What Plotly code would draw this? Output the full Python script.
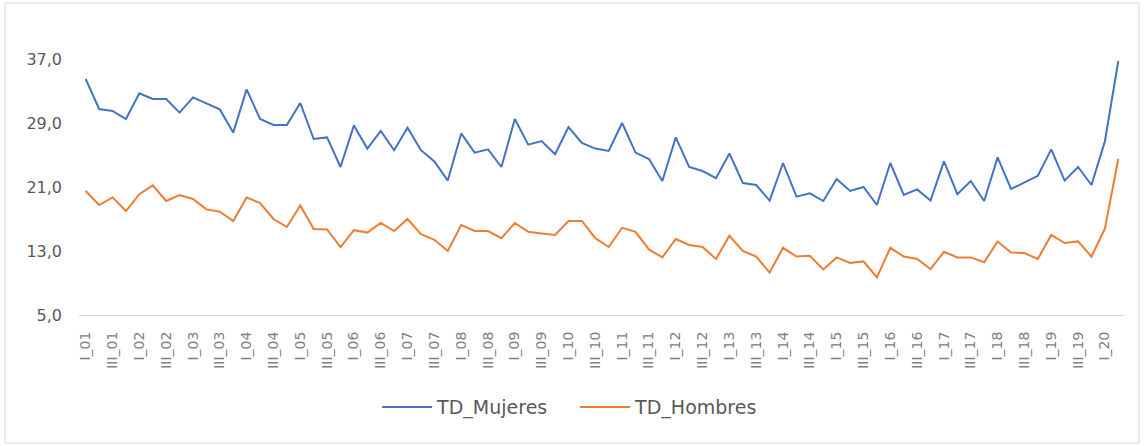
import plotly.graph_objects as go

quarters = ["I", "II", "III", "IV"]
years = ["%02d" % y for y in range(1, 21)]
categories = [f"{q}_{y}" for y in years for q in quarters][:78]  # I_01 .. II_20

mujeres = [34.5, 30.75, 30.5, 29.5, 32.7, 32.0, 32.0, 30.3, 32.2, 31.5, 30.7, 27.8, 33.2, 29.5, 28.75, 28.75,
           31.5, 27.0, 27.2, 23.5, 28.7, 25.8, 28.0, 25.6, 28.4, 25.6, 24.2, 21.8, 27.7, 25.3, 25.7, 23.5,
           29.5, 26.3, 26.75, 25.1, 28.5, 26.5, 25.8, 25.5, 29.0, 25.3, 24.5, 21.75, 27.2, 23.5, 23.0,
           22.1, 25.2, 21.5, 21.25, 19.3, 24.0, 19.8, 20.2, 19.25, 22.0, 20.5, 21.0, 18.75, 24.0, 20.0, 20.7,
           19.3, 24.2, 20.1, 21.75, 19.25, 24.7, 20.75, 21.6, 22.4, 25.7, 21.8, 23.5, 21.25, 26.7, 36.75]

hombres = [20.5, 18.75, 19.7, 18.0, 20.1, 21.2, 19.25, 20.0, 19.5, 18.2, 17.9, 16.75, 19.7, 19.0, 17.0, 16.0,
           18.7, 15.75, 15.7, 13.5, 15.6, 15.3, 16.5, 15.5, 17.0, 15.1, 14.4, 13.0, 16.25, 15.5, 15.5, 14.6,
           16.5, 15.4, 15.2, 15.0, 16.75, 16.75, 14.6, 13.5, 15.9, 15.4, 13.2, 12.2, 14.5, 13.75, 13.5,
           12.0, 14.9, 13.0, 12.3, 10.3, 13.4, 12.3, 12.4, 10.7, 12.2, 11.5, 11.7, 9.7, 13.4, 12.3, 12.0,
           10.75, 12.9, 12.2, 12.2, 11.6, 14.2, 12.8, 12.75, 12.0, 15.0, 14.0, 14.2, 12.3, 15.8, 24.5]

y_ticks = [5, 13, 21, 29, 37]
x_ticks = categories[::2]

fig = go.Figure()
fig.add_trace(go.Scatter(x=categories, y=mujeres, mode="lines", name="TD_Mujeres",
                         line=dict(color="#4472C4", width=2)))
fig.add_trace(go.Scatter(x=categories, y=hombres, mode="lines", name="TD_Hombres",
                         line=dict(color="#ED7D31", width=2)))

fig.update_layout(
    width=1144, height=446,
    margin=dict(l=79, r=19, t=59, b=131),
    paper_bgcolor="white", plot_bgcolor="white",
    separators=",.",
    font=dict(family="DejaVu Sans", color="#595959"),
    showlegend=True,
    legend=dict(orientation="h", x=0.285, xanchor="left", y=-0.36, yanchor="middle",
                font=dict(size=19, color="#595959"), itemwidth=50,
                entrywidth=133, entrywidthmode="pixels"),
    xaxis=dict(type="category", range=[-0.5, 77.5], tickmode="array", tickvals=x_ticks,
               ticktext=x_ticks, tickangle=-90, showgrid=False, zeroline=False,
               showline=True, linecolor="#D9D9D9", linewidth=1, ticks="",
               tickfont=dict(size=14, color="#808080"), ticklabelstandoff=10),
    yaxis=dict(range=[5, 37], tickmode="array", tickvals=y_ticks, tickformat=".1f",
               showgrid=False, zeroline=False, showline=False, ticks="",
               tickfont=dict(size=16, color="#595959"), ticklabelstandoff=16),
)

fig.add_shape(type="rect", xref="paper", yref="paper",
              x0=-0.0707, x1=1.0134, y0=-0.5, y1=1.21875,
              line=dict(color="#D9D9D9", width=1), fillcolor="rgba(0,0,0,0)", layer="below")

fig.write_html("out.html", config={"displayModeBar": False},
               post_script="document.body.style.margin='0';")
